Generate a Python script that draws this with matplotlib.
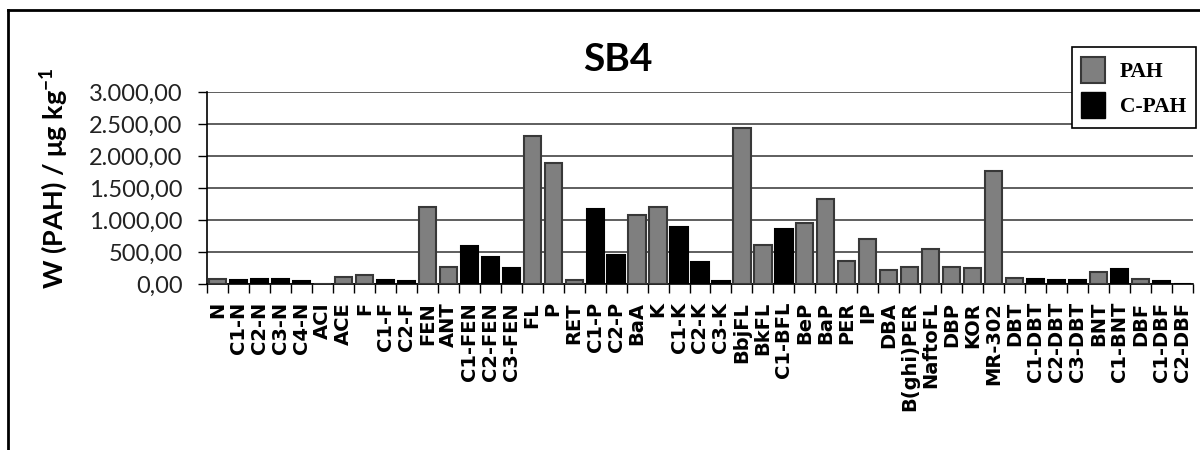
import matplotlib.pyplot as plt
from matplotlib.lines import Line2D
from matplotlib.patches import Patch
from matplotlib.ticker import FuncFormatter, FixedLocator

# data
compounds = ['N', 'C1-N', 'C2-N', 'C3-N', 'C4-N', 'ACI', 'ACE', 'F', 'C1-F', 'C2-F',
             'FEN', 'ANT', 'C1-FEN', 'C2-FEN', 'C3-FEN', 'FL', 'P', 'RET', 'C1-P', 'C2-P',
             'BaA', 'K', 'C1-K', 'C2-K', 'C3-K', 'BbjFL', 'BkFL', 'C1-BFL', 'BeP', 'BaP',
             'PER', 'IP', 'DBA', 'B(ghi)PER', 'NaftoFL', 'DBP', 'KOR', 'MR-302', 'DBT', 'C1-DBT',
             'C2-DBT', 'C3-DBT', 'BNT', 'C1-BNT', 'DBF', 'C1-DBF', 'C2-DBF']
values = [78, 57, 78, 78, 42, 0, 115, 135, 55, 50,
          1198, 266, 589, 422, 250, 2307, 1890, 57, 1172, 458,
          1078, 1198, 890, 344, 42, 2437, 604, 857, 953, 1328,
          365, 703, 214, 271, 552, 271, 250, 1760, 96, 78,
          62, 62, 193, 234, 78, 45, 0]
series = ['PAH', 'C-PAH', 'C-PAH', 'C-PAH', 'C-PAH', 'PAH', 'PAH', 'PAH', 'C-PAH', 'C-PAH',
          'PAH', 'PAH', 'C-PAH', 'C-PAH', 'C-PAH', 'PAH', 'PAH', 'PAH', 'C-PAH', 'C-PAH',
          'PAH', 'PAH', 'C-PAH', 'C-PAH', 'C-PAH', 'PAH', 'PAH', 'C-PAH', 'PAH', 'PAH',
          'PAH', 'PAH', 'PAH', 'PAH', 'PAH', 'PAH', 'PAH', 'PAH', 'PAH', 'C-PAH',
          'C-PAH', 'C-PAH', 'PAH', 'C-PAH', 'PAH', 'C-PAH', 'C-PAH']
yticks = [0, 500, 1000, 1500, 2000, 2500, 3000]

gray = '#7f7f7f'
gray_edge = '#383838'

plt.rcParams['mathtext.fontset'] = 'custom'
plt.rcParams['mathtext.rm'] = 'Lato:bold'
plt.rcParams['mathtext.bf'] = 'Lato:bold'

fig = plt.figure(figsize=(12, 4.5), dpi=100)
ax = fig.add_axes([207/1200, 1-284/450, (1193-207)/1200, (284-92)/450])

x = list(range(len(compounds)))
for name, fc, ec in [('PAH', gray, gray_edge), ('C-PAH', 'black', 'black')]:
    xs = [i for i in x if series[i] == name]
    ys = [values[i] for i in x if series[i] == name]
    ax.bar(xs, ys, width=0.82, color=fc, edgecolor=ec, linewidth=1.5, zorder=3)

ax.set_xlim(-0.5, len(compounds) - 0.5)
ax.set_ylim(0, 3000)
ax.set_yticks(yticks)

def euro(v, pos):
    s = '{:,.2f}'.format(v)
    return s.replace(',', 'X').replace('.', ',').replace('X', '.')

ax.yaxis.set_major_formatter(FuncFormatter(euro))
ax.grid(axis='y', color='#333333', linewidth=1.1, zorder=0)
ax.tick_params(axis='y', length=6.5, width=1, pad=11, labelsize=17)
for lab in ax.get_yticklabels():
    lab.set_fontfamily('Lato')
    lab.set_color('#222222')

# category boundaries get ticks, centres get the labels
ax.xaxis.set_major_locator(FixedLocator([i - 0.5 for i in range(len(compounds) + 1)]))
ax.xaxis.set_minor_locator(FixedLocator(x))
ax.xaxis.set_major_formatter(FuncFormatter(lambda v, p: ''))
ax.set_xticklabels(compounds, minor=True, rotation=90, va='top', ha='center')
for lab in ax.get_xticklabels(minor=True):
    lab.set_fontfamily('DejaVu Sans')
    lab.set_fontweight('bold')
    lab.set_fontsize(14)
ax.tick_params(axis='x', which='major', length=6.5, width=1)
ax.tick_params(axis='x', which='minor', length=0, pad=13)

for side in ['top', 'right']:
    ax.spines[side].set_visible(False)
ax.spines['left'].set_linewidth(1.2)
ax.spines['bottom'].set_linewidth(1.2)

fig.text(618/1200, 1-59/450, 'SB4', ha='center', va='center', fontsize=28,
         fontweight='bold', fontfamily='Lato')
fig.text(54/1200, 1-178/450, 'W (PAH) / μg kg$^{-1}$', rotation=90, ha='center',
         va='center', fontsize=19.5, fontweight='bold', fontfamily='Lato')

handles = [Patch(facecolor=gray, edgecolor=gray_edge, linewidth=1.5, label='PAH'),
           Patch(facecolor='black', edgecolor='black', label='C-PAH')]
leg = fig.legend(handles=handles, loc='upper right', bbox_to_anchor=(1196/1200, 1-47/450),
                 borderaxespad=0, frameon=True, fancybox=False, framealpha=1, edgecolor='black',
                 handlelength=1.1, handleheight=1.5, handletextpad=0.7, labelspacing=0.4,
                 borderpad=0.45, prop={'family': 'Liberation Serif', 'weight': 'bold', 'size': 15.5})
leg.get_frame().set_linewidth(1.2)

# outer frame of the picture
fig.add_artist(Line2D([8/1200, 1], [1-10/450, 1-10/450], color='black', linewidth=2, transform=fig.transFigure))
fig.add_artist(Line2D([8/1200, 8/1200], [0, 1-10/450], color='black', linewidth=2, transform=fig.transFigure))

fig.savefig('out.png', dpi=100, facecolor='white')
